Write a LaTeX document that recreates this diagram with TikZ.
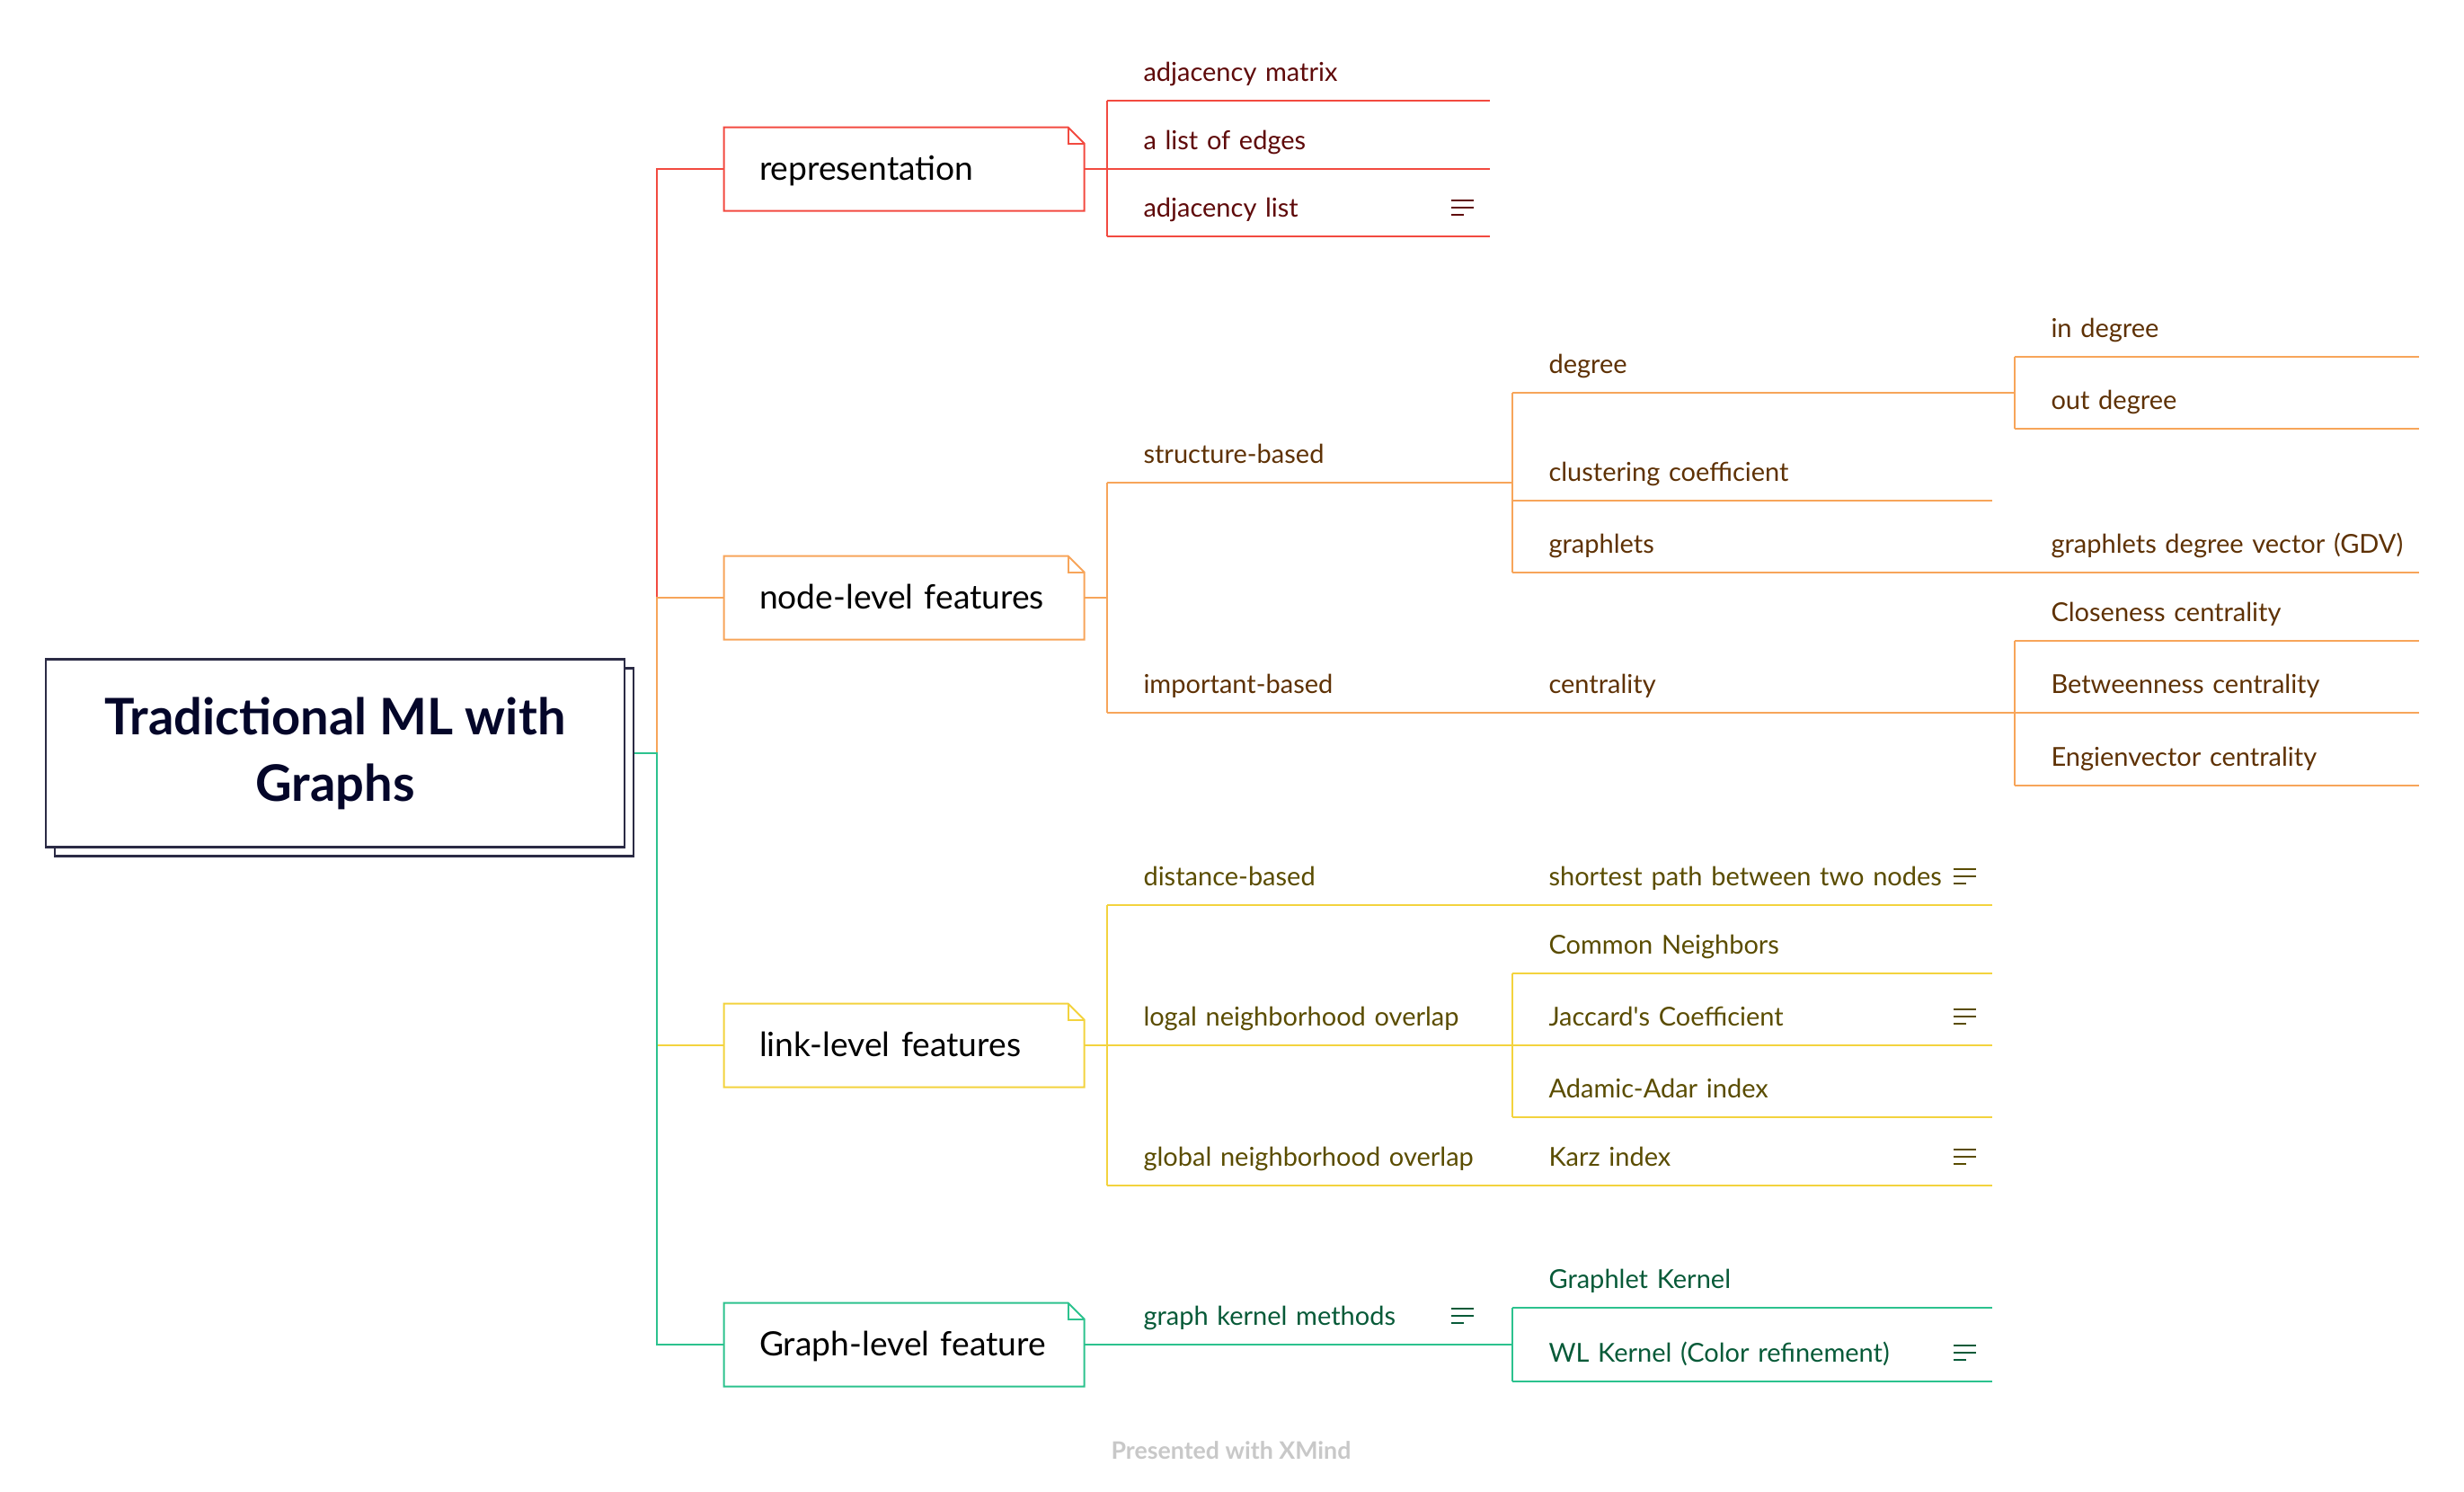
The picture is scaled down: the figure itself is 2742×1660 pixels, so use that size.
\documentclass[tikz,border=0pt]{standalone}
\usepackage{fontspec}
\setmainfont{Lato}
\usetikzlibrary{backgrounds,shadows}
\definecolor{lineR}{HTML}{F24A40}
\definecolor{lineO}{HTML}{F7A55A}
\definecolor{lineY}{HTML}{F3D33E}
\definecolor{lineG}{HTML}{2CC28E}
\definecolor{txtR}{HTML}{5F0A0A}
\definecolor{txtO}{HTML}{5E3104}
\definecolor{txtY}{HTML}{5A4C00}
\definecolor{txtG}{HTML}{075A38}
\definecolor{rootLine}{HTML}{2B2B45}
\definecolor{rootTxt}{HTML}{040629}
\definecolor{footGray}{HTML}{C8C8C8}
\newcommand{\subfont}{\fontsize{11.6}{13.5}\selectfont}
\newcommand{\boxfont}{\fontsize{14.9}{17}\selectfont}
\newcommand{\rootfont}{\fontsize{22.4}{29.6}\selectfont\bfseries}
\newcommand{\footfont}{\fontsize{10.7}{12}\selectfont\bfseries}
% box with folded top right corner
\newcommand{\notebox}[2]{%
  \draw[line,#2] (#1.south west) -- (#1.north west) -- ([xshift=-7.2pt]#1.north east) -- ([yshift=-7.2pt]#1.north east) -- (#1.south east) -- cycle;
  \draw[line,#2] ([xshift=-7.2pt]#1.north east) |- ([yshift=-7.2pt]#1.north east);
}
\tikzset{noteicon/.pic={\draw[line width=1.1pt] (0,0) -- (25,0) (0,8) -- (25,8) (0,16) -- (14,16);}}

\begin{document}
\begin{tikzpicture}[x=0.4pt,y=-0.4pt,line/.style={line width=0.8pt},
  root/.style={draw=rootLine, line width=1pt, fill=white, minimum width=257.6pt, minimum height=83.6pt, align=center, font=\rootfont, text=rootTxt, copy shadow={shadow xshift=4pt, shadow yshift=-4pt, draw=rootLine, fill=white, line width=1pt}},
  box/.style={inner sep=0pt, minimum width=160pt, minimum height=36.8pt, text width=160pt, align=left, text height=12pt, text depth=2.4pt, font=\boxfont, execute at begin node={\hspace*{15.6pt}}},
  sub/.style={anchor=south west, inner sep=0pt, text width=#1, align=left, text height=12pt, text depth=8.6pt, font=\subfont, execute at begin node={\hspace*{16pt}}},
  sub/.default=213.2pt]
  \useasboundingbox (0,0) rectangle (2742,1660);

  \node[root] (root) at (373,838) {Tradictional ML with\\Graphs};
  \coordinate (trunk) at (731,838);

  % main branches
  \node[box] (rep) at (1006,188) {representation};
  \node[box] (nl) at (1006,665) {node-level features};
  \node[box] (ll) at (1006,1163) {link-level features};
  \node[box] (gf) at (1006,1496) {Graph-level feature};
  \notebox{rep}{lineR}
  \notebox{nl}{lineO}
  \notebox{ll}{lineY}
  \notebox{gf}{lineG}

  % representation
  \node[sub=170pt, text=txtR] (am) at (1232,112) {adjacency matrix};
  \node[sub=170pt, text=txtR] (le) at (1232,188) {a list of edges};
  \node[sub=170pt, text=txtR] (al) at (1232,263) {adjacency list};
  \pic[txtR] at (1615,223) {noteicon};
  \draw[line, lineR] (rep.east) -- (le.south west);
  \draw[line, lineR] (am.south west) -- (al.south west);
  \foreach \n in {am,le,al} \draw[line, lineR] (\n.south west) -- (\n.south east);

  % node-level features
  \node[sub=180.4pt, text=txtO] (sb) at (1232,537) {structure-based};
  \node[sub=180.4pt, text=txtO] (ib) at (1232,793) {important-based};
  \node[sub=223.6pt, text=txtO] (deg) at (1683,437) {degree};
  \node[sub, text=txtO] (cc) at (1683,557) {clustering coefficient};
  \node[sub=223.6pt, text=txtO] (gl) at (1683,637) {graphlets};
  \node[sub=223.6pt, text=txtO] (cen) at (1683,793) {centrality};
  \node[sub=179.6pt, text=txtO] (ind) at (2242,397) {in degree};
  \node[sub=179.6pt, text=txtO] (outd) at (2242,477) {out degree};
  \node[sub=179.6pt, text=txtO] (gdv) at (2242,637) {graphlets degree vector (GDV)};
  \node[sub=179.6pt, text=txtO] (clo) at (2242,713) {Closeness centrality};
  \node[sub=179.6pt, text=txtO] (bet) at (2242,793) {Betweenness centrality};
  \node[sub=179.6pt, text=txtO] (eig) at (2242,874) {Engienvector centrality};
  \draw[line, lineO] (nl.east) -- (nl.east -| sb.south west);
  \draw[line, lineO] (sb.south west) -- (ib.south west);
  \draw[line, lineO] (deg.south west) -- (gl.south west);
  \draw[line, lineO] (ind.south west) -- (outd.south west);
  \draw[line, lineO] (clo.south west) -- (eig.south west);
  \foreach \n in {sb,ib,deg,cc,gl,cen,ind,outd,gdv,clo,bet,eig} \draw[line, lineO] (\n.south west) -- (\n.south east);

  % link-level features
  \node[sub=180.4pt, text=txtY] (db) at (1232,1007) {distance-based};
  \node[sub=180.4pt, text=txtY] (lno) at (1232,1163) {logal neighborhood overlap};
  \node[sub=180.4pt, text=txtY] (gno) at (1232,1319) {global neighborhood overlap};
  \node[sub, text=txtY] (sp) at (1683,1007) {shortest path between two nodes};
  \node[sub, text=txtY] (cn) at (1683,1083) {Common Neighbors};
  \node[sub, text=txtY] (jc) at (1683,1163) {Jaccard\textquotesingle s Coefficient};
  \node[sub, text=txtY] (aa) at (1683,1243) {Adamic-Adar index};
  \node[sub, text=txtY] (kz) at (1683,1319) {Karz index};
  \pic[txtY] at (2174,967) {noteicon};
  \pic[txtY] at (2174,1123) {noteicon};
  \pic[txtY] at (2174,1279) {noteicon};
  \draw[line, lineY] (ll.east) -- (lno.south west);
  \draw[line, lineY] (db.south west) -- (gno.south west);
  \draw[line, lineY] (cn.south west) -- (aa.south west);
  \foreach \n in {db,lno,gno,sp,cn,jc,aa,kz} \draw[line, lineY] (\n.south west) -- (\n.south east);

  % graph-level feature
  \node[sub=180.4pt, text=txtG] (gkm) at (1232,1496) {graph kernel methods};
  \node[sub, text=txtG] (gk) at (1683,1455) {Graphlet Kernel};
  \node[sub, text=txtG] (wl) at (1683,1537) {WL Kernel (Color refinement)};
  \pic[txtG] at (1615,1456) {noteicon};
  \pic[txtG] at (2174,1497) {noteicon};
  \draw[line, lineG] (gf.east) -- (gkm.south west);
  \draw[line, lineG] (gk.south west) -- (wl.south west);
  \foreach \n in {gkm,gk,wl} \draw[line, lineG] (\n.south west) -- (\n.south east);

  \node[font=\footfont, text=footGray, anchor=base] (credit) at (1370,1623) {Presented with XMind};

  \begin{scope}[on background layer]
    \draw[line, lineR] (root.east) -- (trunk) |- (rep.west);
    \draw[line, lineO] (root.east) -- (trunk) |- (nl.west);
    \draw[line, lineY] (root.east) -- (trunk) |- (ll.west);
    \draw[line, lineG] (root.east) -- (trunk) |- (gf.west);
  \end{scope}
\end{tikzpicture}
\end{document}
